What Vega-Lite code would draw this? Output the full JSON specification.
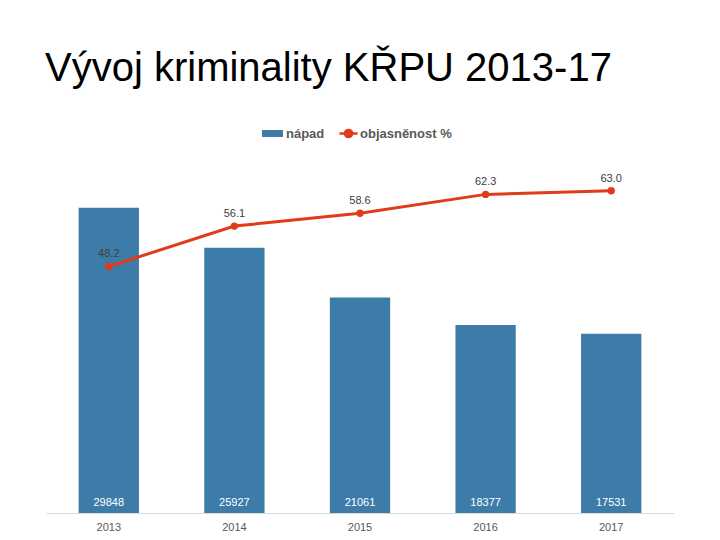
{
  "$schema": "https://vega.github.io/schema/vega-lite/v6.json",
  "width": 628,
  "height": 358,
  "autosize": {"type": "none"},
  "padding": {"left": 46, "top": 155, "right": 46, "bottom": 27},
  "title": {
    "text": "Vývoj kriminality KŘPU 2013-17",
    "anchor": "start",
    "frame": "group",
    "font": "Liberation Sans",
    "fontSize": 40,
    "fontWeight": "normal",
    "color": "#000000",
    "offset": 34,
    "dx": -1
  },
  "config": {
    "view": {"stroke": null},
    "font": "Liberation Sans"
  },
  "data": {
    "values": [
      {"year": "2013", "napad": 29848, "objas": 48.2},
      {"year": "2014", "napad": 25927, "objas": 56.1},
      {"year": "2015", "napad": 21061, "objas": 58.6},
      {"year": "2016", "napad": 18377, "objas": 62.3},
      {"year": "2017", "napad": 17531, "objas": 63.0}
    ]
  },
  "encoding": {
    "x": {
      "field": "year",
      "type": "ordinal",
      "scale": {"paddingInner": 0.52, "paddingOuter": 0.26},
      "axis": {
        "title": null,
        "labelAngle": 0,
        "ticks": false,
        "domainColor": "#d9d9d9",
        "domainWidth": 1,
        "labelColor": "#595959",
        "labelFontSize": 11,
        "labelFont": "Liberation Sans",
        "labelPadding": 8,
        "grid": false
      }
    }
  },
  "layer": [
    {
      "layer": [
        {
          "mark": {"type": "bar"},
          "encoding": {
            "y": {"field": "napad", "type": "quantitative", "scale": {"domain": [0, 35000]}, "axis": null},
            "fill": {
              "datum": "nápad",
              "type": "nominal",
              "scale": {"range": ["#3d7ca8"]},
              "legend": {
                "orient": "none",
                "legendX": 216,
                "legendY": -32,
                "title": null,
                "symbolType": "M-1,-0.33L1,-0.33L1,0.33L-1,0.33Z",
                "symbolSize": 441,
                "symbolStrokeWidth": 0,
                "labelFontSize": 13,
                "labelFontWeight": "bold",
                "labelColor": "#595959",
                "labelFont": "Liberation Sans",
                "labelOffset": 3
              }
            }
          }
        },
        {
          "mark": {"type": "text", "color": "#ffffff", "fontSize": 11, "baseline": "middle", "dy": -10, "font": "Liberation Sans"},
          "encoding": {
            "y": {"datum": 0, "type": "quantitative"},
            "text": {"field": "napad", "type": "quantitative", "format": "d"}
          }
        }
      ]
    },
    {
      "layer": [
        {
          "mark": {"type": "line", "strokeWidth": 3},
          "encoding": {
            "y": {"field": "objas", "type": "quantitative", "scale": {"domain": [0, 70]}, "axis": null},
            "stroke": {
              "datum": "objasněnost %",
              "type": "nominal",
              "scale": {"range": ["#e03c1a"]},
              "legend": {
                "orient": "none",
                "legendX": 292,
                "legendY": -32,
                "title": null,
                "symbolType": "M-1,0L1,0M0.4,0A0.4,0.4 0 1,1 -0.4,0A0.4,0.4 0 1,1 0.4,0Z",
                "symbolSize": 324,
                "symbolStrokeWidth": 2.5,
                "symbolFillColor": "#e03c1a",
                "labelFontSize": 13,
                "labelFontWeight": "bold",
                "labelColor": "#595959",
                "labelFont": "Liberation Sans",
                "labelOffset": 1
              }
            }
          }
        },
        {
          "mark": {"type": "point", "filled": true, "color": "#e03c1a", "size": 55, "opacity": 1},
          "encoding": {
            "y": {"field": "objas", "type": "quantitative"}
          }
        },
        {
          "mark": {"type": "text", "color": "#404040", "fontSize": 11, "baseline": "alphabetic", "dy": -9, "font": "Liberation Sans"},
          "encoding": {
            "y": {"field": "objas", "type": "quantitative"},
            "text": {"field": "objas", "type": "quantitative", "format": ".1f"}
          }
        }
      ]
    }
  ],
  "resolve": {"scale": {"y": "independent"}}
}
